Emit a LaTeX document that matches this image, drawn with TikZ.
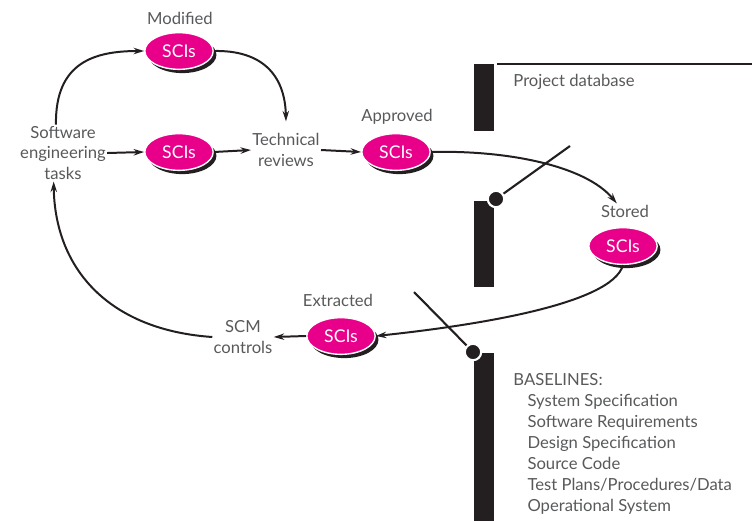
\documentclass[tikz,border=0pt]{standalone}
\usepackage{fontspec}
\setmainfont{Lato}
\usetikzlibrary{arrows.meta,shapes.geometric,shadows}
\definecolor{sciPink}{RGB}{232,0,138}
\definecolor{inkGray}{RGB}{88,89,91}
\definecolor{barBlack}{RGB}{35,31,32}

\tikzset{
  sci/.style={ellipse,fill=sciPink,draw=white,line width=1.2pt,text=white,
    minimum width=2.05cm,minimum height=1.1cm,inner sep=0pt,
    font=\fontsize{15}{18}\selectfont,
    drop shadow={shadow xshift=2.8pt,shadow yshift=-3.2pt,fill=barBlack,opacity=1}},
  lbl/.style={text=inkGray,inner sep=1pt,align=center},
  conn/.style={draw=barBlack,line width=1.7pt,
    -{Stealth[length=9pt,width=5.5pt,inset=3pt]}},
  knob/.style={circle,fill=barBlack,draw=white,line width=1.8pt,
    minimum size=14pt,inner sep=0pt},
  lever/.style={draw=barBlack,line width=1.8pt}
}

\begin{document}
\begin{tikzpicture}[x=0.03cm,y=-0.03cm,font=\fontsize{14.2}{17.9}\selectfont,line cap=butt]
\useasboundingbox (0,0) rectangle (752,521);

% project database
\fill[barBlack] (474,64) rectangle (494,131);
\fill[barBlack] (474,201) rectangle (494,287);
\fill[barBlack] (474,353) rectangle (494,521);
\draw[barBlack,line width=1.9pt] (497,64) -- (752,64);
\node[lbl,anchor=west] (dblbl) at (512,82) {Project database};
\node[lbl,anchor=north west,align=left] (base) at (512,372)
  {BASELINES:\\
   \hspace*{0.85em}System Specification\\
   \hspace*{0.85em}Software Requirements\\
   \hspace*{0.85em}Design Specification\\
   \hspace*{0.85em}Source Code\\
   \hspace*{0.85em}Test Plans/Procedures/Data\\
   \hspace*{0.85em}Operational System};

% levers
\coordinate (leverA) at (570,146);
\coordinate (leverB) at (414,292);
\node[knob] (knobA) at (496,199) {};
\node[knob] (knobB) at (473,352) {};
\draw[lever] (knobA) -- (leverA);
\draw[lever] (knobB) -- (leverB);

% activities
\node[lbl] (tasks) at (63,153) {Software\\engineering\\tasks};
\node[lbl] (rev) at (286,150) {Technical\\reviews};
\node[lbl] (scm) at (243,337) {SCM\\controls};

% configuration items
\node[sci] (mod) at (179,51) {SCIs};
\node[sci] (mid) at (179,152) {SCIs};
\node[sci] (app) at (396,152) {SCIs};
\node[sci] (sto) at (623,246) {SCIs};
\node[sci] (ext) at (341,336) {SCIs};
\node[lbl] (modlbl) at (180,18) {Modified};
\node[lbl] (applbl) at (397,117) {Approved};
\node[lbl] (stolbl) at (625,211) {Stored};
\node[lbl] (extlbl) at (338,300) {Extracted};

% flow
\draw[conn] ([xshift=-6pt]tasks.north) .. controls (55,62) and (95,51) .. (mod.west);
\draw[conn] (mod.east) .. controls (262,50) and (285,75) .. ([yshift=9pt]rev.north);
\draw[conn] (tasks.east) -- (mid.west);
\draw[conn] (mid.east) -- (rev.west);
\draw[conn] (rev.east) -- (app.west);
\draw[conn] (app.east) .. controls (505,150) and (585,165) .. ([xshift=-7pt]stolbl.north);
\draw[conn] (sto.south) .. controls (612,305) and (470,326) .. (ext.east);
\draw[conn] (ext.west) -- (scm.east);
\draw[conn] (scm.west) .. controls (110,330) and (55,270) .. ([xshift=-8pt]tasks.south);
\end{tikzpicture}
\end{document}
